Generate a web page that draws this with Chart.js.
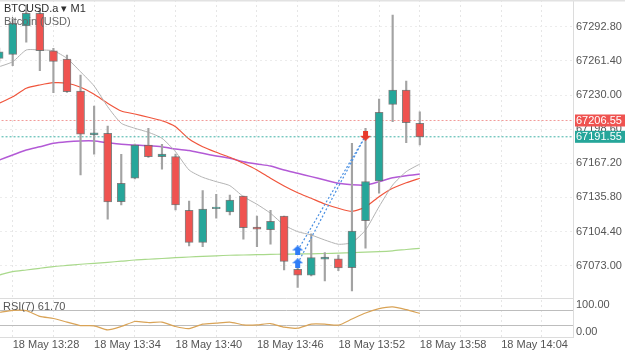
<!DOCTYPE html>
<html>
<head>
<meta charset="utf-8">
<script src="https://cdn.jsdelivr.net/npm/chart.js@4.4.1/dist/chart.umd.min.js"></script>
<style>
  html, body { margin: 0; padding: 0; background: #fff; }
  canvas { display: block; }
</style>
</head>
<body>
<canvas id="chart" width="625" height="352"></canvas>
<script>
// candle times (M1), 18 May
const times = ['13:27','13:28','13:29','13:30','13:31','13:32','13:33','13:34','13:35','13:36','13:37','13:38','13:39','13:40','13:41','13:42',
  '13:43','13:44','13:45','13:46','13:47','13:48','13:49','13:50','13:51','13:52','13:53','13:54','13:55','13:56','13:57','13:58']

const opens = [67263.7, 67267.4, 67293.5, 67305.1, 67270.7, 67263.1, 67233.7, 67193.2, 67194.8, 67131.9, 67153.4, 67184.0, 67173.3, 67173.3, 67123.8, 67094.5,
  67125.4, 67122.4, 67137.1, 67108.6, 67106.1, 67118.7, 67069.7, 67064.2, 67078.9, 67079.2, 67071.2, 67114.4, 67150.9, 67221.4, 67234.6, 67204.0]
const highs = [67273.2, 67300.8, 67312.8, 67310.0, 67272.9, 67266.8, 67248.4, 67219.9, 67201.5, 67175.5, 67184.9, 67199.4, 67184.7, 67175.7, 67132.5, 67142.0,
  67138.7, 67138.0, 67137.1, 67118.7, 67124.0, 67118.7, 67071.0, 67102.2, 67085.0, 67082.8, 67185.6, 67199.4, 67226.3, 67303.6, 67242.9, 67214.6]
const lows = [67260.3, 67256.9, 67278.5, 67252.3, 67232.1, 67232.3, 67156.4, 67175.5, 67115.7, 67128.8, 67152.7, 67172.5, 67161.7, 67124.2, 67091.1, 67090.5,
  67116.6, 67119.6, 67097.3, 67090.5, 67092.7, 67069.0, 67053.1, 67063.5, 67058.9, 67068.4, 67049.7, 67089.0, 67139.6, 67205.4, 67186.1, 67184.0]
const closes = [67269.8, 67295.9, 67305.1, 67270.7, 67261.0, 67233.0, 67193.9, 67195.3, 67131.6, 67148.8, 67184.0, 67173.3, 67175.7, 67128.8, 67094.5, 67125.1,
  67127.0, 67133.4, 67107.9, 67106.5, 67113.8, 67077.0, 67064.2, 67080.4, 67081.0, 67070.9, 67104.9, 67150.3, 67214.1, 67234.6, 67204.5, 67191.55]

// moving averages as drawn on the chart
const maGray = [67256.0, 67260.6, 67271.4, 67271.4, 67270.7, 67263.7, 67251.4, 67238.3, 67219.2, 67204.0, 67199.4, 67195.7, 67190.2, 67177.8, 67161.0, 67154.3,
  67150.3, 67146.6, 67136.5, 67129.5, 67121.2, 67110.4, 67104.3, 67101.2, 67096.6, 67092.7, 67094.3, 67105.8, 67127.3, 67147.2, 67159.5, 67166.5]
const maRed = [67222.4, 67228.4, 67236.2, 67239.2, 67241.3, 67240.8, 67237.1, 67230.6, 67222.4, 67215.3, 67212.5, 67209.5, 67206.4, 67200.8, 67189.5, 67182.4,
  67177.3, 67172.7, 67167.2, 67161.0, 67153.4, 67146.3, 67140.1, 67135.0, 67129.7, 67125.8, 67123.0, 67127.0, 67136.5, 67144.2, 67149.3, 67153.4]
const maPurple = [67170.2, 67174.8, 67179.4, 67182.4, 67185.6, 67187.0, 67187.7, 67187.7, 67186.1, 67184.7, 67184.0, 67183.4, 67182.4, 67180.3, 67179.0, 67176.4,
  67173.9, 67171.8, 67168.6, 67166.5, 67164.7, 67161.0, 67158.0, 67154.9, 67151.8, 67148.8, 67147.5, 67147.2, 67150.3, 67153.9, 67155.8, 67157.3]
const maGreen = [67064.4, 67067.5, 67069.0, 67070.6, 67072.1, 67073.2, 67074.3, 67075.2, 67076.1, 67077.1, 67078.2, 67078.9, 67079.6, 67080.4, 67081.0, 67081.6,
  67082.1, 67082.6, 67082.8, 67083.1, 67083.4, 67083.6, 67083.8, 67083.9, 67084.2, 67084.5, 67084.9, 67085.4, 67085.9, 67086.7, 67087.9, 67089.0]

const rsi = [64.4, 69.6, 68.8, 54.0, 48.8, 39.5, 30.6, 29.9, 19.5, 28.1, 41.0, 38.4, 39.5, 28.1, 22.9, 34.3,
  36.9, 39.5, 32.5, 32.5, 35.8, 26.5, 23.9, 34.3, 34.3, 31.7, 47.3, 62.9, 74.0, 78.4, 71.4, 61.7]
const rsiLevels = [0, 30, 70, 100]
const rsiTickLabels = ['100.00', '0.00']

// trades
const buyTimes = ['13:49', '13:49']
const buyPrices = [67087.0, 67075.2]
const sellTimes = ['13:54']
const sellPrices = [67192.5]

// ask / bid lines
const askPrice = 67206.55
const bidPrice = 67191.55

const yTicks = [67073.0, 67104.4, 67135.8, 67167.2, 67198.6, 67230.0, 67261.4, 67292.8]
const xTickLabels = ['18 May 13:28', '18 May 13:34', '18 May 13:40', '18 May 13:46', '18 May 13:52', '18 May 13:58', '18 May 14:04']

const teal = '#26a69a'
const red = '#ef5350'
const font = "'Liberation Sans', Arial, sans-serif"

// minutes from 13:28
const toX = t => {
    const [h, m] = t.split(':').map(Number)
    return h * 60 + m - (13 * 60 + 28)
}
const labelX = xTickLabels.map(l => toX(l.split(' ')[2]))

const series = arr => times.map((t, i) => ({x: toX(t), y: arr[i]}))

// no extra room for half labels, the panes fill the canvas
const noPadding = axis => {
    axis.paddingTop = 0
    axis.paddingBottom = 0
    axis.paddingLeft = 0
    axis.paddingRight = 0
}

// little arrow images for trade marks
const makeArrow = (color, up) => {
    const c = document.createElement('canvas')
    c.width = 11
    c.height = 10
    const g = c.getContext('2d')
    g.fillStyle = color
    g.beginPath()
    const pts = [[5.5, 0], [11, 5], [8, 5], [8, 10], [3, 10], [3, 5], [0, 5]]
    pts.forEach(([px, py], i) => {
        const yy = up ? py : 10 - py
        if (i === 0) g.moveTo(px, yy)
        else g.lineTo(px, yy)
    })
    g.closePath()
    g.fill()
    return c
}

const tradeLines = buyTimes.map((t, i) => ({
    type: 'line',
    data: [{x: toX(t), y: buyPrices[i]}, {x: toX(sellTimes[0]), y: sellPrices[0]}],
    borderColor: '#4a90e2',
    borderWidth: 1.2,
    borderDash: [2, 2],
    pointRadius: 0,
    order: 1
}))

const overlay = {
    id: 'overlay',
    afterDraw(chart) {
        const ctx = chart.ctx
        const y = chart.scales.y
        const r = chart.scales.yRsi
        ctx.save()
        ctx.fillStyle = '#e2e2e2'
        ctx.fillRect(0, 0, 625, 1.5)

        // price tags on the axis
        ctx.font = '11px ' + font
        ctx.textBaseline = 'middle'
        ;[[askPrice, red], [bidPrice, teal]].forEach(([p, c]) => {
            const py = y.getPixelForValue(p)
            ctx.fillStyle = c
            ctx.fillRect(y.left + 2, py - 6, 52, 12)
            ctx.fillStyle = '#fff'
            ctx.fillText(p.toFixed(2), y.left + 3, py + 0.5)
        })

        // rsi scale labels, kept inside the panel
        ctx.fillStyle = '#555'
        ctx.fillText(rsiTickLabels[0], r.left + 3, r.getPixelForValue(100) + 6.5)
        ctx.fillText(rsiTickLabels[1], r.left + 3, r.getPixelForValue(0) - 5.5)

        // titles
        ctx.fillStyle = '#2e2e2e'
        ctx.fillText('BTCUSD.a \u25BE M1', 4, 9)
        ctx.fillStyle = '#666'
        ctx.fillText('Bitcoin (USD)', 4, 22)
        ctx.fillStyle = '#555'
        ctx.fillText('RSI(7) ' + rsi[rsi.length - 1].toFixed(2), 3, 307)
        ctx.restore()
    }
}

const candleColors = closes.map((c, i) => c >= opens[i] ? teal : red)

new Chart(document.getElementById('chart'), {
    type: 'bar',
    data: {
        datasets: [
            {
                type: 'line',
                data: buyTimes.map((t, i) => ({x: toX(t), y: buyPrices[i]})),
                showLine: false,
                pointStyle: makeArrow('#2f7df6', true),
                pointRadius: 5,
                order: 0
            },
            {
                type: 'line',
                data: sellTimes.map((t, i) => ({x: toX(t), y: sellPrices[i]})),
                showLine: false,
                pointStyle: makeArrow('#e8392c', false),
                pointRadius: 5,
                order: 0
            },
            ...tradeLines,
            {
                data: times.map((t, i) => ({x: toX(t), y: [opens[i], closes[i]]})),
                backgroundColor: candleColors,
                borderColor: 'rgba(90,90,90,0.75)',
                borderWidth: 1,
                borderSkipped: false,
                barThickness: 8,
                grouped: false,
                order: 2
            },
            {
                data: times.map((t, i) => ({x: toX(t), y: [lows[i], highs[i]]})),
                backgroundColor: '#a3a3a3',
                borderWidth: 0,
                barThickness: 1.5,
                grouped: false,
                order: 3
            },
            {
                type: 'line',
                data: [{x: -2, y: askPrice}, {x: 45, y: askPrice}],
                borderColor: '#f29a98',
                borderWidth: 1,
                borderDash: [2, 2],
                pointRadius: 0,
                order: 4
            },
            {
                type: 'line',
                data: [{x: -2, y: bidPrice}, {x: 45, y: bidPrice}],
                borderColor: '#3fb1a6',
                borderWidth: 1,
                borderDash: [2, 2],
                pointRadius: 0,
                order: 4
            },
            {type: 'line', data: series(maGray), borderColor: '#b3b3b3', borderWidth: 1, pointRadius: 0, tension: 0.2, order: 5},
            {type: 'line', data: series(maRed), borderColor: '#f0553c', borderWidth: 1.2, pointRadius: 0, tension: 0.2, order: 5},
            {type: 'line', data: series(maPurple), borderColor: '#b35ad6', borderWidth: 1.5, pointRadius: 0, tension: 0.2, order: 5},
            {type: 'line', data: series(maGreen), borderColor: '#a9d98b', borderWidth: 1.2, pointRadius: 0, tension: 0.2, order: 5},
            {type: 'line', data: series(rsi), yAxisID: 'yRsi', borderColor: '#d9a356', borderWidth: 1.2, pointRadius: 0, tension: 0.2, order: 6}
        ]
    },
    options: {
        responsive: false,
        animation: false,
        layout: {padding: 0, autoPadding: false},
        plugins: {legend: {display: false}, tooltip: {enabled: false}},
        scales: {
            x: {
                type: 'linear',
                offset: false,
                min: -0.936,
                max: 41.29,
                afterBuildTicks: axis => {
                    const ticks = []
                    for (let v = labelX[0]; v <= axis.max; v += 3) ticks.push({value: v})
                    axis.ticks = ticks
                },
                afterFit: axis => {
                    axis.height = 14.5
                    noPadding(axis)
                },
                ticks: {
                    autoSkip: false,
                    maxRotation: 0,
                    align: 'start',
                    padding: 1,
                    color: '#555',
                    font: {family: font, size: 11},
                    callback: v => {
                        const k = labelX.indexOf(v)
                        return k >= 0 ? xTickLabels[k] : ''
                    }
                },
                grid: {color: '#e6e6e6', drawTicks: false, offset: false},
                border: {color: '#dcdcdc', dash: [2, 3]}
            },
            y: {
                position: 'right',
                stack: 'panes',
                stackWeight: 298.5,
                min: 67042.8,
                max: 67317.4,
                beginAtZero: false,
                afterBuildTicks: axis => { axis.ticks = yTicks.map(v => ({value: v})) },
                afterFit: axis => {
                    axis.width = 52
                    noPadding(axis)
                },
                ticks: {
                    padding: 3,
                    color: '#555',
                    font: {family: font, size: 11},
                    callback: v => v.toFixed(2)
                },
                grid: {color: '#ececec', drawTicks: false},
                border: {color: '#dcdcdc', dash: [2, 3]}
            },
            yRsi: {
                position: 'right',
                stack: 'panes',
                stackWeight: 39,
                min: 0,
                max: 100,
                afterBuildTicks: axis => { axis.ticks = rsiLevels.map(v => ({value: v})) },
                afterFit: axis => {
                    axis.width = 52
                    noPadding(axis)
                },
                ticks: {display: false},
                grid: {
                    drawTicks: false,
                    color: c => (c.tick && (c.tick.value === 30 || c.tick.value === 70)) ? '#bdbdbd' : '#dcdcdc'
                },
                border: {color: '#dcdcdc'}
            }
        }
    },
    plugins: [overlay]
})
</script>
</body>
</html>
